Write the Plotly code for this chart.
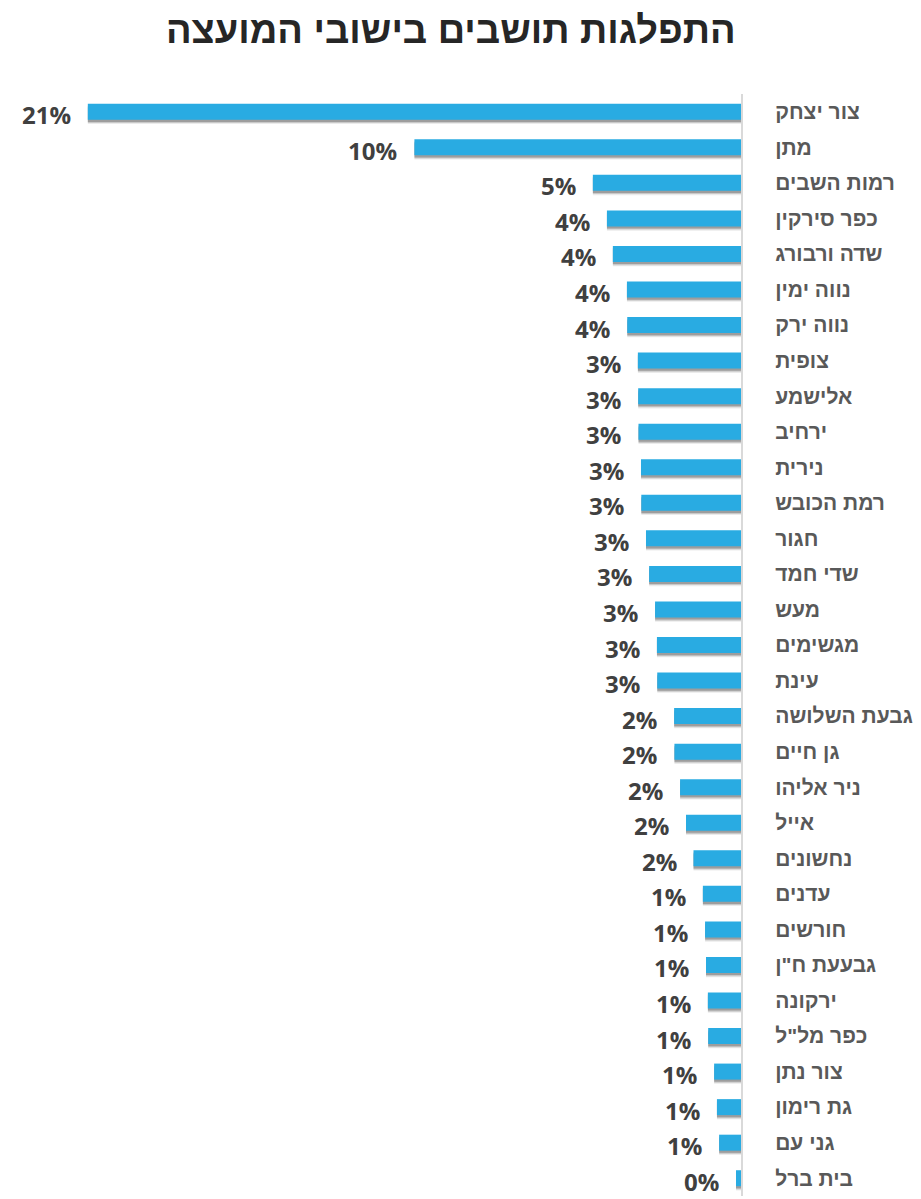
import plotly.graph_objects as go

title = "התפלגות תושבים בישובי המועצה"

categories = [
    "צור יצחק", "מתן", "רמות השבים", "כפר סירקין", "שדה ורבורג",
    "נווה ימין", "נווה ירק", "צופית", "אלישמע", "ירחיב",
    "נירית", "רמת הכובש", "חגור", "שדי חמד", "מעש",
    "מגשימים", "עינת", "גבעת השלושה", "גן חיים", "ניר אליהו",
    "אייל", "נחשונים", "עדנים", "חורשים", 'גבעעת ח"ן',
    "ירקונה", 'כפר מל"ל', "צור נתן", "גת רימון", "גני עם",
    "בית ברל",
]

values = [
    0.209, 0.1045, 0.0474, 0.0429, 0.0410,
    0.0365, 0.0364, 0.0330, 0.0329, 0.0328,
    0.0320, 0.0319, 0.0304, 0.0294, 0.0275,
    0.0269, 0.0268, 0.0214, 0.0213, 0.0195,
    0.0176, 0.0152, 0.0122, 0.0115, 0.0112,
    0.0106, 0.0105, 0.0086, 0.0077, 0.0070,
    0.0016,
]

BAR_W = 0.45
fig = go.Figure()

# soft drop shadow layers
for off, alpha in [(0.12, 0.08), (0.09, 0.14), (0.06, 0.22)]:
    fig.add_trace(go.Bar(
        x=values, y=categories, orientation="h",
        width=BAR_W, offset=-BAR_W / 2 + off,
        marker=dict(color=f"rgba(0,0,0,{alpha})", line=dict(width=0)),
        hoverinfo="skip", showlegend=False,
    ))

fig.add_trace(go.Bar(
    x=values, y=categories, orientation="h",
    width=BAR_W, offset=-BAR_W / 2,
    marker=dict(color="#29abe2", line=dict(width=0)),
    showlegend=False,
))

for c, v in zip(categories, values):
    fig.add_annotation(
        x=v, y=c, text=f"{v*100:.0f}%", showarrow=False,
        xanchor="right", yanchor="middle", xshift=-15, yshift=-3,
        font=dict(family="Open Sans", size=24, color="#404040", weight="bold"),
    )

# page body has an 8px margin; figure is sized/positioned to compensate
fig.update_layout(
    width=913, height=1191,
    margin=dict(l=12, r=180, t=86, b=3),
    paper_bgcolor="white", plot_bgcolor="white",
    barmode="overlay",
    title=dict(
        text=f"<b>{title}</b>", x=0.485, xanchor="center", y=0.982, yanchor="middle",
        font=dict(family="Liberation Sans", size=38, color="#262626"),
    ),
    xaxis=dict(
        range=[0.2307, 0], visible=False, showgrid=False, zeroline=False,
        fixedrange=True,
    ),
    yaxis=dict(
        categoryorder="array", categoryarray=categories,
        range=[len(categories) - 0.5, -0.5],
        side="right", showgrid=False, zeroline=False, automargin=False,
        showline=True, linecolor="#d9d9d9", linewidth=2,
        ticks="", ticklabelstandoff=28,
        tickfont=dict(family="Liberation Sans", size=21, color="#595959", weight="bold"),
    ),
)

fig.write_html("out.html")
